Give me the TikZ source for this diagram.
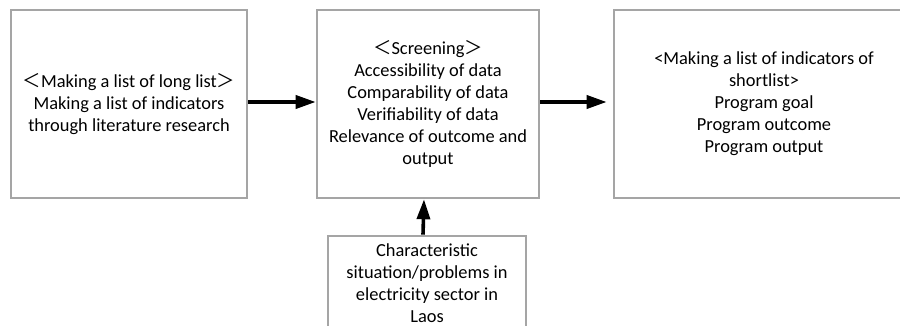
\documentclass[tikz,border=0pt]{standalone}
\usepackage{fontspec}
\setmainfont{Carlito}
\newfontfamily\cjkfont{Noto Sans CJK JP}
\usetikzlibrary{arrows.meta}
\newcommand{\lab}{{\cjkfont ＜}}
\newcommand{\rab}{{\cjkfont ＞}}
\tikzset{
  stagebox/.style={draw=boxgray, line width=2.6pt, rectangle, align=center,
    font=\fontsize{18.4}{22}\selectfont, inner sep=0pt},
  flowarrow/.style={line width=3.6pt, -{Triangle[length=20pt,width=13pt]}}
}
\definecolor{boxgray}{HTML}{A5A5A5}
\begin{document}
\begin{tikzpicture}[x=1pt,y=-1pt]
  \useasboundingbox (0,0) rectangle (900,326);
  \clip (0,0) rectangle (900,326);
  % three stages of the indicator selection
  \node[stagebox, minimum width=236pt, minimum height=188pt] (longlist) at (129,104)
    {\lab Making a list of long list\rab\\Making a list of indicators\\through literature research};
  \node[stagebox, minimum width=222pt, minimum height=188pt] (screen) at (428,104)
    {\lab Screening\rab\\Accessibility of data\\Comparability of data\\Verifiability of data\\Relevance of outcome and\\output};
  \node[stagebox, minimum width=300pt, minimum height=188pt] (short) at (764,104)
    {<Making a list of indicators of\\shortlist>\\Program goal\\Program outcome\\Program output};
  % sector context feeding the screening step
  \node[stagebox, minimum width=198pt, minimum height=94pt] (context) at (427,283)
    {Characteristic\\situation/problems in\\electricity sector in\\Laos};
  % connectors
  \draw[flowarrow] ([yshift=2pt]longlist.east) -- ([yshift=2pt]screen.west);
  \draw[flowarrow, shorten >=6pt] ([yshift=2pt]screen.east) -- ([yshift=2pt]short.west);
  \draw[flowarrow] ([xshift=-4pt]context.north) -- ([xshift=-4pt]screen.south);
\end{tikzpicture}
\end{document}
